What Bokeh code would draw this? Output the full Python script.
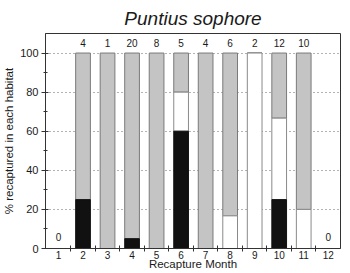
from bokeh.plotting import figure
from bokeh.models import FixedTicker, ColumnDataSource, Range1d, Title
from bokeh.embed import file_html
from bokeh.resources import INLINE
from bokeh.core.properties import value

months = [1, 2, 3, 4, 5, 6, 7, 8, 9, 10, 11, 12]
counts = [0, 4, 1, 20, 8, 5, 4, 6, 2, 12, 10, 0]
black_pct = [0, 25, 0, 5, 0, 60, 0, 0, 0, 25, 0, 0]
white_pct = [0, 0, 0, 0, 0, 20, 0, 16.7, 100, 41.7, 20, 0]
gray_pct = [0, 75, 100, 95, 100, 20, 100, 83.3, 0, 33.3, 80, 0]
y_ticks = [0, 20, 40, 60, 80, 100]

FONT = "Liberation Sans"
INK = "#1a1a1a"

p = figure(width=350, height=273, output_backend="svg", toolbar_location=None,
           x_range=Range1d(0.47, 12.5), y_range=Range1d(0, 110),
           min_border_left=42, min_border_right=10, min_border_top=33,
           min_border_bottom=25)
p.background_fill_color = "white"
p.border_fill_color = "white"
p.outline_line_color = "#333333"
p.outline_line_width = 1

p.add_layout(Title(text="Puntius sophore", align="center", offset=-10,
                   standoff=6, vertical_align="top", text_font=FONT,
                   text_font_style="italic", text_font_size="19px",
                   text_color=INK), "above")

b0 = [0] * len(months)
b1 = black_pct
b2 = [b + w for b, w in zip(black_pct, white_pct)]
b3 = [b + w + g for b, w, g in zip(black_pct, white_pct, gray_pct)]

src = ColumnDataSource(dict(x=months, b0=b0, b1=b1, b2=b2, b3=b3,
                            n=[str(c) for c in counts],
                            ly=[105 if c > 0 else 6 for c in counts]))

W = 0.6
p.vbar(x="x", bottom="b2", top="b3", width=W, source=src,
       fill_color="#c4c4c4", line_color="#7a7a7a", line_width=1)
p.vbar(x="x", bottom="b1", top="b2", width=W, source=src,
       fill_color="#ffffff", line_color="#8a8a8a", line_width=1)
p.vbar(x="x", bottom="b0", top="b1", width=W, source=src,
       fill_color="#111111", line_color="#111111", line_width=1)

p.text(x="x", y="ly", text="n", source=src, text_font=value(FONT),
       text_font_size="10px", text_align="center", text_baseline="middle",
       text_color=INK)

# grid
p.xgrid.grid_line_color = None
p.ygrid.ticker = FixedTicker(ticks=[20, 40, 60, 80, 100])
p.ygrid.grid_line_color = "#666666"
p.ygrid.grid_line_dash = "1 3"
p.ygrid.grid_line_width = 1

# axes
p.xaxis.ticker = FixedTicker(ticks=months,
                             minor_ticks=[m + 0.5 for m in months[:-1]])
p.xaxis.major_tick_line_color = None
p.xaxis.major_tick_in = 0
p.xaxis.major_tick_out = 0
p.xaxis.minor_tick_in = 3
p.xaxis.minor_tick_out = 3
p.xaxis.minor_tick_line_color = "#333333"
p.xaxis.axis_label = "Recapture Month"
p.xaxis.axis_label_text_font = FONT
p.xaxis.axis_label_text_font_style = "normal"
p.xaxis.axis_label_text_font_size = "11.5px"
p.xaxis.axis_label_standoff = -4
p.xaxis.major_label_text_font = FONT
p.xaxis.major_label_text_font_size = "10px"
p.xaxis.major_label_standoff = -1

p.yaxis.ticker = FixedTicker(ticks=y_ticks, minor_ticks=[10, 30, 50, 70, 90])
p.yaxis.major_tick_in = 3
p.yaxis.major_tick_out = 4
p.yaxis.minor_tick_in = 2
p.yaxis.minor_tick_out = 2
p.yaxis.minor_tick_line_color = "#333333"
p.yaxis.major_tick_line_color = "#333333"
p.yaxis.axis_label = "% recaptured in each habitat"
p.yaxis.axis_label_text_font = FONT
p.yaxis.axis_label_text_font_style = "normal"
p.yaxis.axis_label_text_font_size = "11.5px"
p.yaxis.axis_label_standoff = 2
p.yaxis.major_label_text_font = FONT
p.yaxis.major_label_text_font_size = "11px"
p.yaxis.major_label_standoff = 3

for ax in (p.xaxis, p.yaxis):
    ax.axis_line_color = "#333333"
    ax.major_label_text_color = INK
    ax.axis_label_text_color = INK

open("out.html", "w").write(file_html(p, INLINE))
